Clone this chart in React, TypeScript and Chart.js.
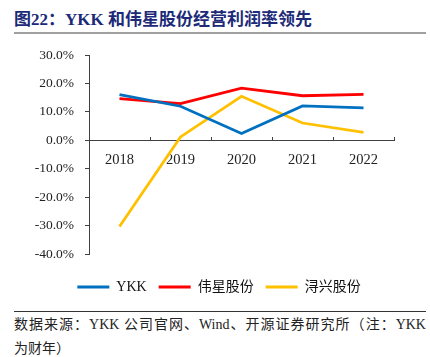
import React, { useEffect, useRef } from "react";
import { Chart, registerables } from "chart.js";

Chart.register(...registerables);

const categories = ["2018", "2019", "2020", "2021", "2022"];
const ykkValues = [16.1, 12.0, 2.4, 12.1, 11.4];
const weixingValues = [14.7, 12.9, 18.4, 15.7, 16.2];
const xunxingValues = [-30.3, 1.2, 15.5, 6.1, 2.8];
const seriesNames = ["YKK", "伟星股份", "浔兴股份"];
const seriesColors = ["#0070C0", "#FF0000", "#FFC000"];
const yMin = -40;
const yMax = 30;
const yStep = 10;

const titleText = "图22：YKK 和伟星股份经营利润率领先";
const sourceLine1 = "数据来源：YKK 公司官网、Wind、开源证券研究所（注：YKK";
const sourceLine2 = "为财年）";

const serif = '"Liberation Serif", "Times New Roman", "Noto Sans CJK SC", serif';

export default function App() {
  const canvasRef = useRef<HTMLCanvasElement | null>(null);

  useEffect(() => {
    const canvas = canvasRef.current;
    if (!canvas) return;
    const seriesData = [ykkValues, weixingValues, xunxingValues];
    const chart = new Chart(canvas, {
      type: "line",
      data: {
        labels: categories,
        datasets: seriesData.map((d, i) => ({
          label: seriesNames[i],
          data: d,
          borderColor: seriesColors[i],
          backgroundColor: seriesColors[i],
          borderWidth: 2.8,
          pointRadius: 0,
          pointHoverRadius: 0,
          tension: 0,
          fill: false,
        })),
      },
      options: {
        animation: false,
        responsive: false,
        maintainAspectRatio: false,
        devicePixelRatio: 1,
        layout: { padding: { top: 11, right: 0, left: 8, bottom: 0 } },
        plugins: {
          tooltip: { enabled: false },
          title: {
            display: true,
            position: "bottom",
            weight: 500,
            text: " ",
            font: { size: 2, lineHeight: 1 },
            padding: { top: 12, bottom: 0 },
          } as any,
          subtitle: {
            display: true,
            position: "right",
            fullSize: false,
            text: " ",
            font: { size: 2, lineHeight: 1 },
            padding: { top: 34, bottom: 0 },
          } as any,
          legend: {
            position: "bottom",
            labels: {
              usePointStyle: true,
              pointStyle: "line",
              pointStyleWidth: 32,
              boxHeight: 14,
              padding: 12,
              color: "#111",
              font: { family: serif, size: 14 },
            },
          },
        },
        scales: {
          x: {
            type: "category",
            position: { y: 0 },
            offset: true,
            grid: {
              display: true,
              drawOnChartArea: false,
              drawTicks: true,
              tickLength: -4,
              color: "#404040",
              offset: true,
            },
            border: { display: true, color: "#404040", width: 1 },
            ticks: {
              color: "#222",
              padding: 15,
              font: { family: serif, size: 14.5 },
              maxRotation: 0,
            },
          },
          y: {
            min: yMin,
            max: yMax,
            grid: {
              display: true,
              drawOnChartArea: false,
              drawTicks: true,
              tickLength: 4,
              color: "#404040",
            },
            border: { display: true, color: "#404040", width: 1 },
            ticks: {
              stepSize: yStep,
              color: "#222",
              padding: 11,
              font: { family: serif, size: 13.5 },
              callback: (v: any) => Number(v).toFixed(1) + "%",
            },
            afterFit: (scale: any) => {
              scale.width = 81;
            },
          },
        },
      },
    });
    return () => chart.destroy();
  }, []);

  return (
    <div style={{ position: "absolute", left: 0, top: 0, width: 430, height: 357, background: "#fff", overflow: "hidden" }}>
      <div
        style={{
          position: "absolute",
          left: 14,
          top: 9,
          fontFamily: serif,
          fontWeight: "bold",
          fontSize: 17,
          lineHeight: "22px",
          color: "#1C2A78",
          whiteSpace: "nowrap",
        }}
      >
        {titleText}
      </div>
      <div style={{ position: "absolute", left: 14, top: 32, width: 412, height: 2, background: "#A0A0A0" }} />
      <div style={{ position: "absolute", left: 0, top: 36, width: 430, height: 268 }}>
        <canvas ref={canvasRef} width={430} height={268} style={{ width: 430, height: 268, display: "block" }} />
      </div>
      <div style={{ position: "absolute", left: 14, top: 311, width: 412, height: 1, background: "#333" }} />
      <div
        style={{
          position: "absolute",
          left: 14,
          top: 315,
          width: 412,
          fontFamily: serif,
          fontSize: 14,
          lineHeight: "20px",
          color: "#222",
          textAlign: "justify",
          textAlignLast: "justify" as any,
          whiteSpace: "nowrap",
        }}
      >
        {sourceLine1}
      </div>
      <div
        style={{
          position: "absolute",
          left: 14,
          top: 339,
          fontFamily: serif,
          fontSize: 14,
          lineHeight: "20px",
          color: "#222",
          whiteSpace: "nowrap",
        }}
      >
        {sourceLine2}
      </div>
    </div>
  );
}
